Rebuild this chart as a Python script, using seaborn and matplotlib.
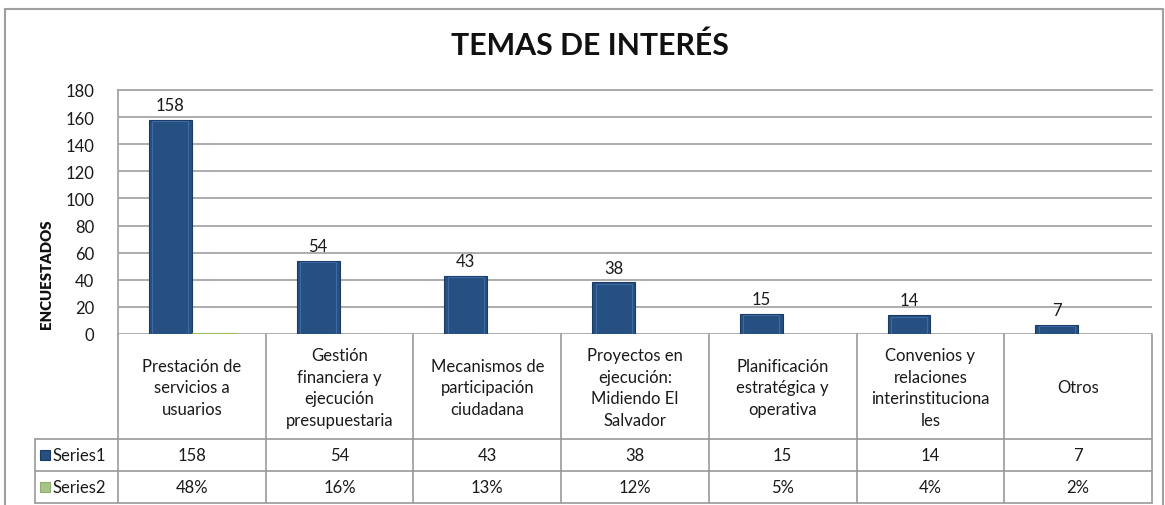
import matplotlib
matplotlib.use("Agg")
import matplotlib.pyplot as plt
import seaborn as sns
import pandas as pd
from matplotlib.patches import Rectangle
from matplotlib.lines import Line2D

# ---- data ----
categories = [
    "Prestación de\nservicios a\nusuarios",
    "Gestión\nfinanciera y\nejecución\npresupuestaria",
    "Mecanismos de\nparticipación\nciudadana",
    "Proyectos en\nejecución:\nMidiendo El\nSalvador",
    "Planificación\nestratégica y\noperativa",
    "Convenios y\nrelaciones\ninterinstituciona\nles",
    "Otros",
]
series1 = [158, 54, 43, 38, 15, 14, 7]
series2 = [0.48, 0.16, 0.13, 0.12, 0.05, 0.04, 0.02]
series1_labels = ["158", "54", "43", "38", "15", "14", "7"]
series2_labels = ["48%", "16%", "13%", "12%", "5%", "4%", "2%"]
series_names = ["Series1", "Series2"]
yticks = [0, 20, 40, 60, 80, 100, 120, 140, 160, 180]
title = "TEMAS DE INTERÉS"
ylabel = "ENCUESTADOS"

sns.set_theme(style="white")
plt.rcParams["font.family"] = ["Lato", "DejaVu Sans"]

W, H = 1165, 506
fig = plt.figure(figsize=(W / 100, H / 100), dpi=100)


def fx(px):
    return px / W


def fy(py):
    return 1 - py / H


blue = "#264F82"
green = "#9BBB59"
grid_c = "#A6A6A6"
line_c = "#9A9A9A"
txt_c = "#1a1a1a"
FS = 12

# outer border
fig.patches.append(Rectangle((fx(5), fy(530)), fx(1163) - fx(5), fy(10) - fy(530),
                             transform=fig.transFigure, fill=False,
                             edgecolor="#A0A0A0", lw=1.5))

# ---- main bar axes ----
L, R, T, B = 118, 1152, 91, 335
ax = fig.add_axes([fx(L), fy(B), fx(R) - fx(L), fy(T) - fy(B)])
df = pd.DataFrame({
    "cat": categories * 2,
    "serie": [series_names[0]] * len(categories) + [series_names[1]] * len(categories),
    "val": series1 + series2,
})
sns.barplot(data=df, x="cat", y="val", hue="serie", order=categories,
            hue_order=series_names, palette=[blue, green], width=0.58,
            ax=ax, legend=False, edgecolor="#1C3B63", linewidth=0.8,
            saturation=1)
for p in ax.containers[1]:
    p.set_edgecolor(green)
# subtle bevel highlight on the blue bars
for p in ax.containers[0]:
    x0, w, h = p.get_x(), p.get_width(), p.get_height()
    ax.add_patch(Rectangle((x0 + w * 0.08, 0), w * 0.84, h - 1.2,
                           facecolor="none", edgecolor="#3D6AA3", lw=0.8))

ax.bar_label(ax.containers[0], labels=series1_labels, padding=5, fontsize=FS,
             color=txt_c)

ax.set_ylim(0, 180)
ax.set_xlim(-0.5, len(categories) - 0.5)
ax.set_yticks(yticks)
ax.set_yticklabels([str(t) for t in yticks], fontsize=FS, color=txt_c)
ax.tick_params(axis="y", length=0, pad=17)
ax.set_xticks([])
ax.set_xlabel("")
ax.set_ylabel("")
ax.yaxis.grid(True, color=grid_c, lw=1.3)
ax.set_axisbelow(True)
for s in ["right", "bottom"]:
    ax.spines[s].set_visible(False)
ax.spines["top"].set_color(grid_c)
ax.spines["top"].set_linewidth(1.3)
ax.spines["left"].set_color(grid_c)
ax.spines["left"].set_linewidth(1.3)

fig.text(fx(47), fy(274), ylabel, rotation=90, ha="center", va="center",
         fontsize=10.8, fontweight="heavy", color="#111111")
fig.text(fx(590), fy(46), title, ha="center", va="center",
         fontsize=21.8, fontweight="bold", color="#111111")

# ---- data table ----
tab = fig.add_axes([fx(L), fy(504), fx(R) - fx(L), fy(B) - fy(504)])
tab.set_xlim(-0.5, len(categories) - 0.5)
tab.set_ylim(504, 335)  # pixel-like rows
tab.axis("off")
cw = (len(categories)) / (R - L)  # data units per px
legend_left = -0.5 - (L - 35) * cw
row_cat = (335, 440)
row_s1 = (440, 472)
row_s2 = (472, 504)

kw = dict(color=line_c, lw=1.2, clip_on=False)
tab.add_line(Line2D([legend_left, 6.5], [row_cat[1]] * 2, **kw))
tab.add_line(Line2D([legend_left, 6.5], [row_s1[1]] * 2, **kw))
tab.add_line(Line2D([legend_left, 6.5], [row_s2[1]] * 2, **kw))
for i in range(len(categories) + 1):
    tab.add_line(Line2D([i - 0.5] * 2, [335, 504], **kw))
tab.add_line(Line2D([legend_left] * 2, [440, 504], **kw))

for i, c in enumerate(categories):
    tab.text(i, (row_cat[0] + row_cat[1]) / 2 + 1, c, ha="center", va="center",
             fontsize=FS, linespacing=1.42, color=txt_c)
    tab.text(i, sum(row_s1) / 2, series1_labels[i], ha="center", va="center",
             fontsize=FS, color=txt_c)
    tab.text(i, sum(row_s2) / 2, series2_labels[i], ha="center", va="center",
             fontsize=FS, color=txt_c)

# legend keys
for (r0, r1), col, ec, name in [(row_s1, blue, "#1C3B63", series_names[0]),
                                (row_s2, "#A9C48A", "#8FAE6E", series_names[1])]:
    cy = (r0 + r1) / 2
    tab.add_patch(Rectangle((legend_left + 5 * cw, cy - 5), 10 * cw, 10,
                            facecolor=col, edgecolor=ec, lw=0.8, clip_on=False))
    tab.text(legend_left + 18 * cw, cy, name, ha="left", va="center",
             fontsize=FS, color=txt_c)

fig.savefig("out.png", dpi=100)
